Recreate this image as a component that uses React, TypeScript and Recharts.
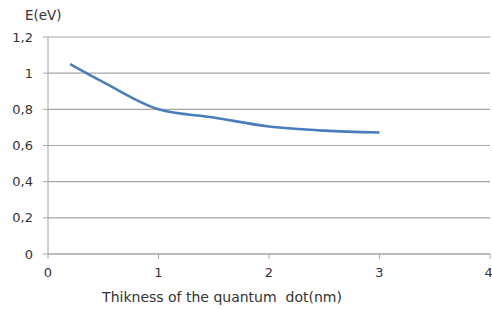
import { LineChart, Line, XAxis, YAxis, CartesianGrid } from "recharts";

// thickness (nm) vs energy (eV)
const thickness = [0.2, 0.5, 1, 1.5, 2, 2.5, 3];
const energy = [1.05, 0.95, 0.8, 0.755, 0.705, 0.682, 0.672];

const xTicks = [0, 1, 2, 3, 4];
const yTicks = [0, 0.2, 0.4, 0.6, 0.8, 1, 1.2];

const data = thickness.map((t, i) => ({ t, e: energy[i] }));

const font = "'DejaVu Sans', Verdana, sans-serif";
const gray = "#a6a6a6";
const textColor = "#333333";

const fmt = (v: number) => String(Number(v.toFixed(1))).replace(".", ",");

export default function App() {
  return (
    <div style={{ position: "absolute", left: 0, top: 0, width: 492, height: 309, background: "#fff", fontFamily: font }}>
      <div style={{ position: "absolute", left: 25, top: 7, fontSize: 13.5, color: textColor }}>E(eV)</div>
      <LineChart width={492} height={309} data={data} margin={{ top: 37, right: 2, bottom: 0, left: 0 }}>
        <CartesianGrid horizontal vertical={false} stroke={gray} strokeWidth={1.2} />
        <XAxis
          dataKey="t"
          type="number"
          domain={[0, 4]}
          ticks={xTicks}
          height={55}
          stroke={gray}
          tickSize={5}
          tickMargin={9}
          tick={{ fill: textColor, fontSize: 13, fontFamily: font }}
          label={{ value: "Thikness of the quantum\u00a0 dot(nm)", position: "insideBottom", offset: 7, dx: -47, fill: textColor, fontSize: 14, fontFamily: font }}
        />
        <YAxis
          type="number"
          domain={[0, 1.2]}
          ticks={yTicks}
          width={48}
          stroke={gray}
          tickSize={5}
          tickMargin={10}
          tickFormatter={fmt}
          tick={{ fill: textColor, fontSize: 13, fontFamily: font }}
        />
        <Line type="monotone" dataKey="e" stroke="#4a7ebb" strokeWidth={2.6} dot={false} isAnimationActive={false} />
      </LineChart>
    </div>
  );
}
